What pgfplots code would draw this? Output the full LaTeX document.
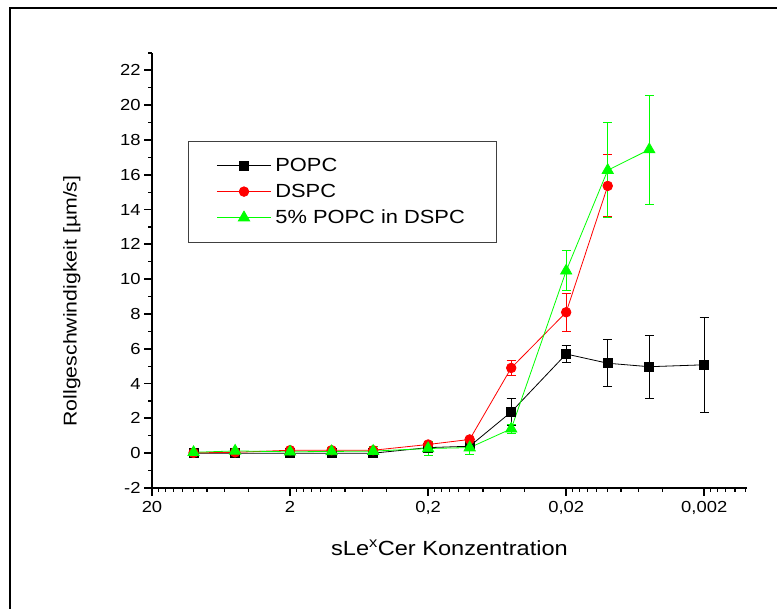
\documentclass[border=0pt]{standalone}
\usepackage{fontspec}
\setmainfont{Liberation Sans}[FakeStretch=1.15]
\usepackage{pgfplots}
\usepackage{pgfplotstable}
\pgfplotsset{compat=1.18}
\definecolor{Rot}{HTML}{FF0000}
\definecolor{Gruen}{HTML}{00FF00}

% concentration, velocity, error
\pgfplotstableread{
x      y     ey
10     0.00  0.05
5      0.00  0.05
2      0.00  0.05
1      0.00  0.05
0.5    0.00  0.05
0.2    0.32  0.12
0.1    0.40  0.15
0.05   2.37  0.78
0.02   5.70  0.50
0.01   5.17  1.35
0.005  4.97  1.82
0.002  5.08  2.74
}\popc

\pgfplotstableread{
x      y     ey
10     0.02  0.08
5      0.05  0.08
2      0.17  0.10
1      0.17  0.10
0.5    0.17  0.10
0.2    0.50  0.10
0.1    0.79  0.12
0.05   4.90  0.43
0.02   8.10  1.10
0.01   15.36 1.78
}\dspc

\pgfplotstableread{
x      y     ey
10     0.05  0.15
5      0.13  0.15
2      0.08  0.20
1      0.10  0.20
0.5    0.12  0.25
0.2    0.27  0.38
0.1    0.32  0.38
0.05   1.40  0.25
0.02   10.48 1.15
0.01   16.26 2.73
0.005  17.45 3.13
}\mix

\begin{document}
\begin{tikzpicture}
\useasboundingbox (0pt,0pt) rectangle (777pt,609pt);
\draw[line width=2pt] (10pt,-2pt) -- (10pt,601pt) -- (780pt,601pt);
\begin{axis}[
  at={(152pt,121pt)}, anchor=south west,
  scale only axis, width=595pt, height=435pt,
  xmode=log, x dir=reverse,
  xmin=0.00098, xmax=20,
  ymin=-2, ymax=23,
  axis x line*=bottom, axis y line*=left,
  axis line style={-, line width=2pt, black},
  tick align=outside,
  major tick length=8pt, minor tick length=4pt,
  major tick style={line width=1.8pt, black},
  minor tick style={line width=1.3pt, black},
  xtick={20,2,0.2,0.02,0.002},
  xticklabels={20,2,{0,2},{0,02},{0,002}},
  minor xtick={18,16,14,12,10,8,6,4,1.8,1.6,1.4,1.2,1,0.8,0.6,0.4,
    0.18,0.16,0.14,0.12,0.1,0.08,0.06,0.04,0.018,0.016,0.014,0.012,0.01,0.008,0.006,0.004,
    0.0018,0.0016,0.0014,0.0012,0.001},
  ytick={-2,0,...,22},
  yticklabels={-2,0,2,4,6,8,10,12,14,16,18,20,22},
  minor ytick={-1,1,...,23},
  ticklabel style={font=\fontsize{16}{19}\selectfont},
  xticklabel style={yshift=-2pt},
  xlabel={sLe\textsuperscript{x}Cer Konzentration},
  ylabel={Rollgeschwindigkeit [µm/s]},
  every axis x label/.style={at={(axis description cs:0.5,-0.138)}, anchor=center,
    font=\fontsize{20.5}{24}\selectfont},
  every axis y label/.style={at={(axis description cs:-0.1345,0.43)}, rotate=90, anchor=center,
    font=\fontsize{18.5}{22}\selectfont},
  clip=false,
  legend style={at={(axis description cs:0.0605,0.798)}, anchor=north west,
    draw=black!75, line width=1.2pt, fill=white,
    font=\fontsize{19}{22}\selectfont,
    inner xsep=28pt, inner ysep=15pt, row sep=7pt,
    nodes={inner xsep=4pt}},
  legend cell align=left,
  legend image code/.code={
    \draw[mark repeat=2,mark phase=2,#1] plot coordinates {(0pt,0pt) (27pt,0pt) (54pt,0pt)};
  },
  error bars/y dir=both, error bars/y explicit,
]
\addplot[black, line width=0.8pt, mark=square*, mark size=4.4pt,
  mark options={solid},
  error bars/error bar style={line width=1pt},
  error bars/error mark options={rotate=90, mark size=4.5pt, line width=1pt}]
  table[x=x, y=y, y error=ey] {\popc};
\addlegendentry{POPC}
\addplot[Rot, line width=0.8pt, mark=*, mark size=4.8pt,
  mark options={solid},
  error bars/error bar style={line width=1pt},
  error bars/error mark options={rotate=90, mark size=4.5pt, line width=1pt}]
  table[x=x, y=y, y error=ey] {\dspc};
\addlegendentry{DSPC}
\addplot[Gruen, line width=0.8pt, mark=triangle*, mark size=6.5pt,
  mark options={solid},
  error bars/error bar style={line width=1pt},
  error bars/error mark options={rotate=90, mark size=4.5pt, line width=1pt}]
  table[x=x, y=y, y error=ey] {\mix};
\addlegendentry{5\% POPC in DSPC}
\end{axis}
\end{tikzpicture}
\end{document}
